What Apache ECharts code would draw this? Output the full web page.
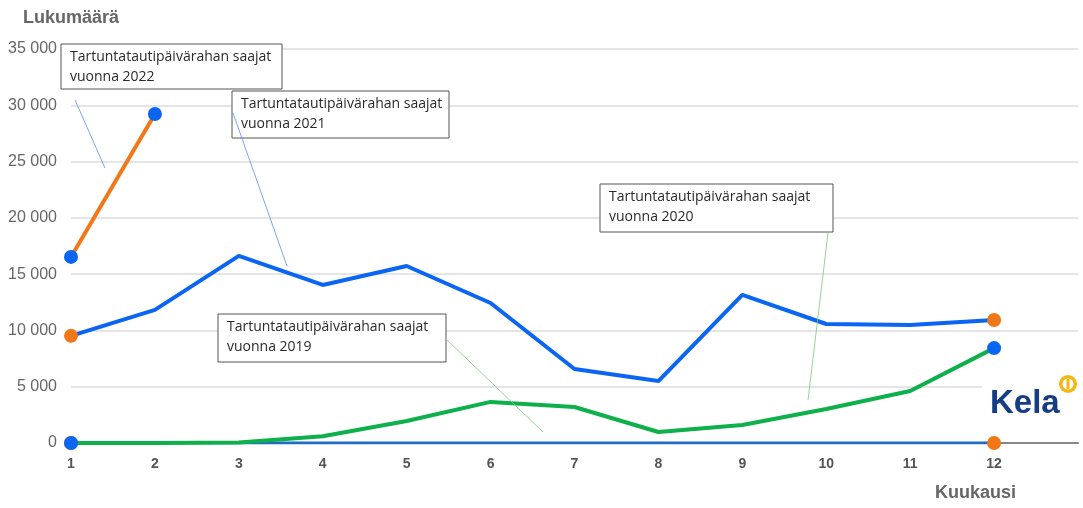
<!DOCTYPE html>
<html>
<head>
<meta charset="utf-8">
<script src="https://cdn.jsdelivr.net/npm/echarts@6/dist/echarts.min.js"></script>
<style>
	html, body { margin: 0; padding: 0; background: #fff; }
	#chart { width: 1083px; height: 508px; }
</style>
</head>
<body>
<div id="chart"></div>
<script>
// Kuukaudet (viimeinen tyhjä, akseli jatkuu)
const months = ['1', '2', '3', '4', '5', '6', '7', '8', '9', '10', '11', '12', ''];
const yTicks = [0, 5000, 10000, 15000, 20000, 25000, 30000, 35000];

// Tartuntatautipäivärahan saajat
const v2019 = [0, 0, 0, 0, 0, 0, 0, 0, 0, 0, 0, 0];
const v2020 = [0, 0, 50, 600, 1950, 3650, 3200, 980, 1600, 3020, 4620, 8430];
const v2021 = [9520, 11820, 16620, 14040, 15720, 12440, 6570, 5500, 13150, 10570, 10480, 10930];
const v2022 = [16530, 29230];

const BLUE = '#0a66f2';
const ORANGE = '#f07818';
const GREEN = '#0db04b';
const DARKBLUE = '#1f6cc0';

// vain ensimmäinen ja viimeinen piste saa pallon
function withEnds(values, firstColor, lastColor) {
	return values.map((v, i) => {
		if (i === 0 || i === values.length - 1) {
			return {
				value: v,
				symbol: 'circle',
				symbolSize: 14,
				itemStyle: { color: i === 0 ? firstColor : lastColor, borderWidth: 0 },
			};
		}
		return { value: v, symbol: 'none' };
	});
}

const chart = echarts.init(document.getElementById('chart'));

// selitelaatikko: suorakulmio + teksti erillisinä elementteinä
function noteBox(x, y, w, h, txt) {
	return [
		{
			type: 'rect',
			z: 100,
			shape: { x: x, y: y, width: w, height: h },
			style: { fill: '#fff', stroke: '#555', lineWidth: 1 },
		},
		{
			type: 'text',
			z: 101,
			x: x + 9,
			y: y + 3,
			style: { text: txt, fontFamily: 'Open Sans', fontSize: 14, fill: '#2a2a2a', lineHeight: 20 },
		},
	];
}

function leader(x1, y1, x2, y2, color) {
	return {
		type: 'line',
		z: 110,
		shape: { x1: x1, y1: y1, x2: x2, y2: y2 },
		style: { stroke: color, lineWidth: 0.8 },
	};
}

const option = {
	backgroundColor: '#fff',
	animation: false,
	grid: { left: 71, right: 5, top: 49, bottom: 65 },
	xAxis: {
		type: 'category',
		data: months,
		boundaryGap: false,
		axisLine: { lineStyle: { color: '#888', width: 2 } },
		axisTick: { show: false },
		axisLabel: {
			color: '#555',
			fontSize: 14,
			fontWeight: 'bold',
			fontFamily: 'Liberation Sans',
			margin: 14,
		},
		splitLine: { show: false },
	},
	yAxis: {
		type: 'value',
		min: yTicks[0],
		max: yTicks[yTicks.length - 1],
		interval: 5000,
		axisLine: { show: false },
		axisTick: { show: false },
		axisLabel: {
			color: '#666',
			fontSize: 16,
			fontFamily: 'Liberation Sans',
			margin: 14,
			formatter: (v) => String(v).replace(/\B(?=(\d{3})+(?!\d))/g, ' '),
		},
		splitLine: { lineStyle: { color: '#dcdce0', width: 1.5 } },
	},
	series: [
		{
			name: '2019',
			type: 'line',
			data: withEnds(v2019, ORANGE, ORANGE),
			lineStyle: { color: DARKBLUE, width: 3 },
			z: 3,
		},
		{
			name: '2020',
			type: 'line',
			data: withEnds(v2020, BLUE, BLUE),
			lineStyle: { color: GREEN, width: 4 },
			z: 4,
		},
		{
			name: '2021',
			type: 'line',
			data: withEnds(v2021, ORANGE, ORANGE),
			lineStyle: { color: BLUE, width: 4 },
			z: 5,
		},
		{
			name: '2022',
			type: 'line',
			data: withEnds(v2022, BLUE, BLUE),
			lineStyle: { color: ORANGE, width: 4 },
			z: 6,
		},
	],
	graphic: [
		{
			type: 'text',
			z: 100,
			x: 23,
			y: 9,
			style: { text: 'Lukumäärä', fontSize: 18, fontWeight: 'bold', fill: '#666', fontFamily: 'Liberation Sans' },
		},
		{
			type: 'text',
			z: 100,
			x: 935,
			y: 484,
			style: { text: 'Kuukausi', fontSize: 18, fontWeight: 'bold', fill: '#666', fontFamily: 'Liberation Sans' },
		},
		...noteBox(61, 44, 221, 45, 'Tartuntatautipäivärahan saajat\nvuonna 2022'),
		...noteBox(232, 91, 217, 47, 'Tartuntatautipäivärahan saajat\nvuonna 2021'),
		...noteBox(600, 184, 233, 48, 'Tartuntatautipäivärahan saajat\nvuonna 2020'),
		...noteBox(218, 314, 228, 48, 'Tartuntatautipäivärahan saajat\nvuonna 2019'),
		leader(75, 100, 105, 168, '#5b8ee6'),
		leader(233, 113, 287, 266, '#5b8ee6'),
		leader(828, 233, 808, 400, '#7cc87c'),
		leader(446, 339, 543, 432, '#7cc87c'),
		// Kela-logo
		{ type: 'rect', z: 100, shape: { x: 982, y: 372, width: 101, height: 56 }, style: { fill: '#fff' } },
		{
			type: 'text',
			z: 101,
			x: 990,
			y: 387,
			style: { text: 'Kela', fontSize: 33, fontWeight: 'bold', fill: '#153d85', fontFamily: 'Liberation Sans' },
		},
		{ type: 'circle', z: 101, shape: { cx: 1068, cy: 384, r: 9 }, style: { fill: '#f7b512' } },
		{ type: 'circle', z: 102, shape: { cx: 1068, cy: 384, r: 5.5 }, style: { fill: '#fff' } },
		{ type: 'rect', z: 103, shape: { x: 1066.5, y: 379, width: 3, height: 10 }, style: { fill: '#f7b512' } },
	],
};

chart.setOption(option);
</script>
</body>
</html>
